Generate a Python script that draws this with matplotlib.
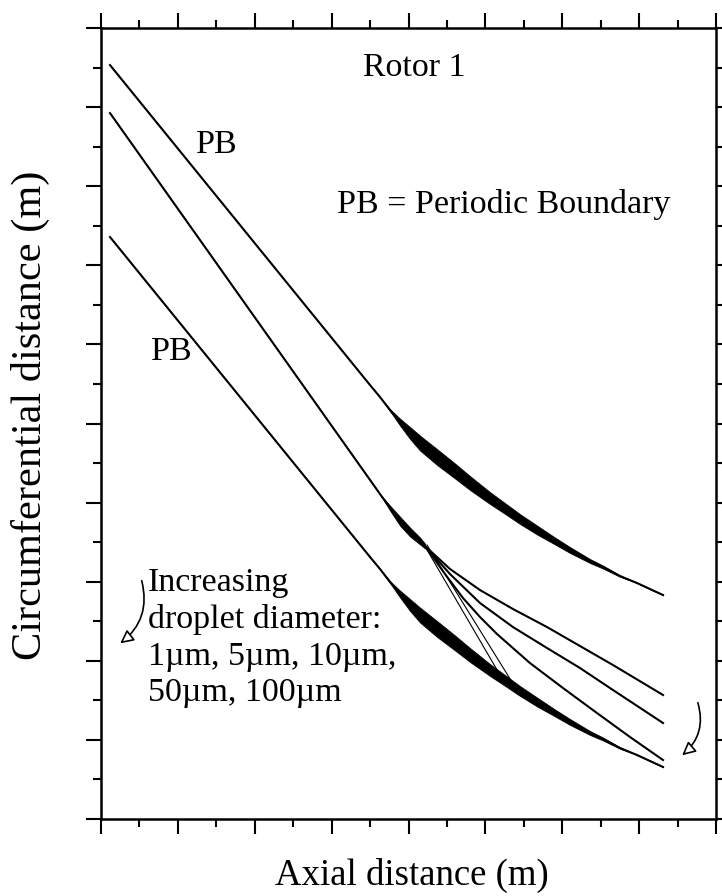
import matplotlib
matplotlib.use("Agg")
import matplotlib.pyplot as plt
import numpy as np
from matplotlib.ticker import MultipleLocator

plt.rcParams['font.family'] = ['Liberation Serif', 'DejaVu Serif']

# periodic boundary (upper) with its droplet band along the blade
pb_x = [0.117, 3.499, 3.629, 3.759, 3.889, 4.020, 4.150, 4.371, 4.605, 4.800, 5.060,
        5.229, 5.450, 5.672, 5.906, 6.101, 6.361, 6.530, 6.751, 6.972, 7.141, 7.311]
pb_upper_y = [9.532, 5.487, 5.335, 5.171, 5.019, 4.880, 4.753, 4.577, 4.400, 4.248, 4.058,
              3.944, 3.793, 3.654, 3.515, 3.401, 3.262, 3.186, 3.072, 2.984, 2.908, 2.832]
# periodic boundary (lower), one pitch below
pb_lower_y = [7.358, 3.313, 3.161, 2.997, 2.845, 2.706, 2.579, 2.403, 2.226, 2.074, 1.884,
              1.770, 1.619, 1.480, 1.341, 1.227, 1.088, 1.012, 0.898, 0.810, 0.734, 0.658]
# band thickness (vertical) along the boundaries
band_w = [0, 0, 0, 0.025, 0.088, 0.152, 0.190, 0.202, 0.190, 0.177, 0.152,
          0.139, 0.126, 0.114, 0.088, 0.076, 0.051, 0.038, 0.019, 0, 0, 0]

# mid-passage trajectories: common trunk then fan
trunk_x = [0.117, 3.629, 3.759, 3.889, 4.020, 4.150, 4.215]
trunk_y = [8.925, 4.109, 3.932, 3.767, 3.628, 3.515, 3.451]
trunk_w = [0, 0, 0.063, 0.114, 0.114, 0.088, 0.063]

fan_x = [4.215, 4.540, 4.930, 5.359, 5.802, 6.231, 6.660, 7.311]
fan1_y = [3.451, 3.161, 2.895, 2.655, 2.427, 2.187, 1.947, 1.568]
fan2_y = [3.451, 3.097, 2.731, 2.427, 2.162, 1.909, 1.631, 1.214]
fan3_x = [4.215, 4.475, 4.709, 4.930, 5.151, 5.580, 6.010, 6.452, 6.881, 7.311]
fan3_y = [3.451, 3.097, 2.794, 2.554, 2.339, 1.972, 1.656, 1.340, 1.037, 0.746]
heavy1_x = [4.189, 5.229]
heavy1_y = [3.489, 1.757]
heavy2_x = [4.241, 5.411]
heavy2_y = [3.464, 1.631]

fig = plt.figure(figsize=(7.22, 8.96), dpi=100)
ax = fig.add_axes([0.1399, 0.0859, 0.8518, 0.8828])

lw = 1.5
for y in (pb_upper_y, pb_lower_y):
    y = np.array(y)
    w = np.array(band_w)
    ax.plot(pb_x, y, color='black', lw=lw, solid_joinstyle='round')
    ax.fill_between(pb_x, y - w / 2, y + w / 2, color='black', lw=0.5)

t = np.array(trunk_y)
tw = np.array(trunk_w)
ax.plot(trunk_x, trunk_y, color='black', lw=lw, solid_joinstyle='round')
ax.fill_between(trunk_x, t - tw / 2, t + tw / 2, color='black', lw=0.5)

for fx, fy in ((fan_x, fan1_y), (fan_x, fan2_y), (fan3_x, fan3_y)):
    ax.plot(fx, fy, color='black', lw=lw, solid_joinstyle='round')
ax.plot(heavy1_x, heavy1_y, color='black', lw=0.8)
ax.plot(heavy2_x, heavy2_y, color='black', lw=0.8)

fs = 24.5
ax.text(4.072, 9.494, 'Rotor 1', fontsize=fs, ha='center', va='center')
ax.text(5.242, 7.775, 'PB = Periodic Boundary', fontsize=fs, ha='center', va='center')
ax.text(1.509, 8.521, 'PB', fontsize=fs, ha='center', va='center')
ax.text(0.924, 5.904, 'PB', fontsize=fs, ha='center', va='center')
ax.text(0.611, 2.29, 'Increasing\ndroplet diameter:\n1\u00b5m, 5\u00b5m, 10\u00b5m,\n50\u00b5m, 100\u00b5m',
        fontsize=fs, ha='left', va='center', linespacing=1.25)

arrow = dict(arrowstyle='-|>', color='black', lw=1.2, fc='white',
             mutation_scale=20, connectionstyle='arc3,rad=-0.35')
ax.annotate('', xy=(0.221, 2.200), xytext=(0.520, 3.047), arrowprops=arrow)
ax.annotate('', xy=(7.532, 0.784), xytext=(7.753, 1.504), arrowprops=arrow)

ax.set_xlim(0, 8)
ax.set_ylim(0, 10)
ax.xaxis.set_major_locator(MultipleLocator(1))
ax.xaxis.set_minor_locator(MultipleLocator(0.5))
ax.yaxis.set_major_locator(MultipleLocator(1))
ax.yaxis.set_minor_locator(MultipleLocator(0.5))
ax.tick_params(which='both', direction='out', top=True, right=True,
               labelbottom=False, labelleft=False, width=1.5)
ax.tick_params(which='major', length=11)
ax.tick_params(which='minor', length=5.5)
for s in ax.spines.values():
    s.set_linewidth(1.8)

ax.set_xlabel('Axial distance (m)', fontsize=26.5)
ax.xaxis.set_label_coords(0.505, -0.0708)
ax.xaxis.label.set_va('center')
ax.set_ylabel('Circumferential distance (m)', fontsize=30.5)
ax.yaxis.set_label_coords(-0.1154, 0.511)
ax.yaxis.label.set_va('center')

fig.savefig('out.png', dpi=100)
